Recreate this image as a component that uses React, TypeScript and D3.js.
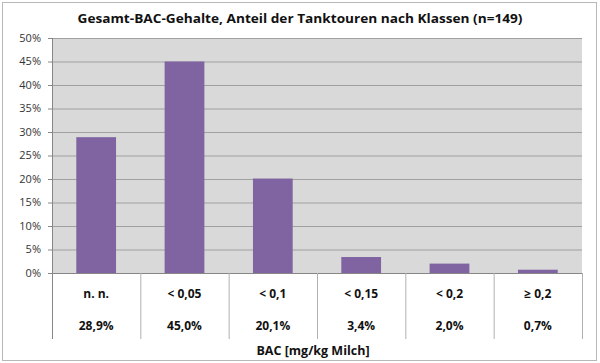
import React from 'react'
import * as d3 from 'd3'

const categories = ['n. n.', '< 0,05', '< 0,1', '< 0,15', '< 0,2', '≥ 0,2']
const shares = [28.9, 45.0, 20.1, 3.4, 2.0, 0.7]
const shareLabels = ['28,9%', '45,0%', '20,1%', '3,4%', '2,0%', '0,7%']
const yTicks = [0, 5, 10, 15, 20, 25, 30, 35, 40, 45, 50]

const title = 'Gesamt-BAC-Gehalte, Anteil der Tanktouren nach Klassen (n=149)'
const axisTitle = 'BAC [mg/kg Milch]'

const W = 600
const H = 363
const plot = { left: 52, right: 582, top: 38, bottom: 273 }
const tableBottom = 339
const font = '"Open Sans", "DejaVu Sans", sans-serif'

export default function App() {
  const x = d3.scaleBand<string>()
    .domain(categories)
    .range([plot.left, plot.right])
    .paddingInner(0.55)
    .paddingOuter(0.275)

  const y = d3.scaleLinear().domain([0, 50]).range([plot.bottom, plot.top])

  // column boundaries for the data table under the plot
  const step = (plot.right - plot.left) / categories.length
  const bounds = d3.range(categories.length + 1).map(i => plot.left + i * step)
  const colCenter = (i: number) => plot.left + (i + 0.5) * step

  return (
    <div style={{ position: 'absolute', left: 0, top: 0 }}>
      <svg width={W} height={H} style={{ display: 'block' }}>
        <rect x={0} y={0} width={W} height={H} fill="#ffffff" />
        <rect x={2.5} y={2.5} width={594} height={358} fill="#ffffff" stroke="#b8b8b8" strokeWidth={1} />

        <text x={300} y={23} textAnchor="middle" fontFamily={font} fontWeight="bold" fontSize={12.5}
          textLength={445} lengthAdjust="spacingAndGlyphs" fill="#111">
          {title}
        </text>

        <rect x={plot.left} y={plot.top} width={plot.right - plot.left} height={plot.bottom - plot.top} fill="#d9d9d9" />

        {yTicks.map(t => (
          <g key={t}>
            {t > 0 && (
              <line x1={plot.left} x2={plot.right} y1={y(t) + 0.5} y2={y(t) + 0.5} stroke="#a0a0a0" strokeWidth={1} />
            )}
            <line x1={plot.left - 4} x2={plot.left} y1={y(t) + 0.5} y2={y(t) + 0.5} stroke="#868686" />
            <text x={41} y={y(t)} dy="0.35em" textAnchor="end" fontFamily={font} fontSize={11} fill="#333">
              {t}%
            </text>
          </g>
        ))}

        {categories.map((c, i) => (
          <rect key={c} x={x(c)} y={y(shares[i])} width={x.bandwidth()} height={y(0) - y(shares[i])} fill="#8064a2" />
        ))}

        {/* axes and table grid */}
        <line x1={plot.left + 0.5} x2={plot.left + 0.5} y1={plot.top} y2={tableBottom} stroke="#868686" />
        <line x1={plot.left} x2={plot.right} y1={plot.bottom + 0.5} y2={plot.bottom + 0.5} stroke="#868686" />
        {bounds.slice(1).map((b, i) => (
          <line key={i} x1={b + 0.5} x2={b + 0.5} y1={plot.bottom} y2={tableBottom} stroke="#b0b0b0" />
        ))}

        {categories.map((c, i) => (
          <g key={c}>
            <text x={colCenter(i)} y={294} dy="0.35em" textAnchor="middle" fontFamily={font} fontWeight="bold" fontSize={12} fill="#111">
              {c}
            </text>
            <text x={colCenter(i)} y={326} dy="0.35em" textAnchor="middle" fontFamily={font} fontWeight="bold" fontSize={12} fill="#111">
              {shareLabels[i]}
            </text>
          </g>
        ))}

        <text x={313} y={351} dy="0.35em" textAnchor="middle" fontFamily={font} fontWeight="bold" fontSize={12.5} fill="#111">
          {axisTitle}
        </text>
      </svg>
    </div>
  )
}
